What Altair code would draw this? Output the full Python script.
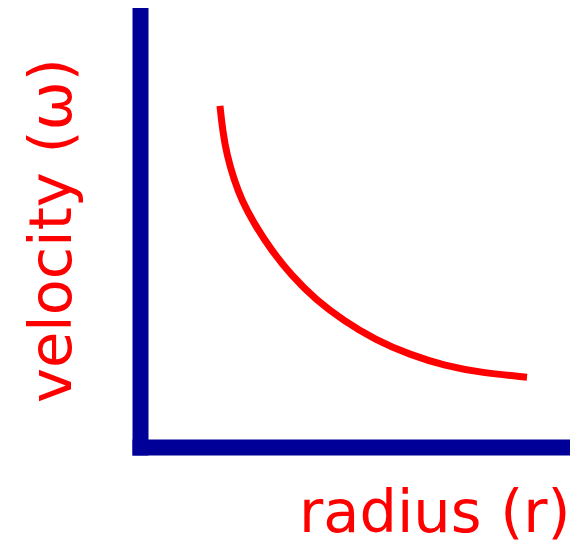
import altair as alt
import pandas as pd

radius = [1.86, 1.92, 2.02, 2.19, 2.36, 2.67, 3.05, 3.51, 4.09, 4.72, 5.47, 6.28, 7.09, 7.95, 9.00]
velocity = [7.77, 7.22, 6.65, 6.08, 5.63, 5.06, 4.49, 3.92, 3.35, 2.89, 2.44, 2.10, 1.85, 1.69, 1.59]

df = pd.DataFrame({"radius": radius, "velocity": velocity})

AXIS_BLUE = "#000099"
RED = "#ff0000"
FONT = "DejaVu Sans"

axis_common = dict(
    domainColor=AXIS_BLUE,
    domainWidth=16,
    domainCap="square",
    ticks=False,
    labels=False,
    grid=False,
    titleColor=RED,
    titleFont=FONT,
    titleFontSize=59,
    titleFontWeight="normal",
    titleBaseline="alphabetic",
)

chart = (
    alt.Chart(df)
    .mark_line(color=RED, strokeWidth=7, strokeCap="butt", interpolate="basis")
    .encode(
        x=alt.X(
            "radius:Q",
            scale=alt.Scale(domain=[0, 10], nice=False, zero=False),
            axis=alt.Axis(title="radius (r)", titleAlign="right", titleX=430, titleY=84,
                          titleAngle=0, **axis_common),
        ),
        y=alt.Y(
            "velocity:Q",
            scale=alt.Scale(domain=[0, 10], nice=False, zero=False),
            axis=alt.Axis(title="velocity (ω)", titleAlign="center", titleX=-70, titleY=222,
                          titleAngle=270, **axis_common),
        ),
    )
    .properties(
        width=430,
        height=439,
        autosize=alt.AutoSizeParams(type="none"),
        padding={"left": 132, "top": 0, "right": 0, "bottom": 97},
    )
    .configure_view(stroke=None)
)

chart.save("out.html", embed_options={"renderer": "svg", "actions": False})
